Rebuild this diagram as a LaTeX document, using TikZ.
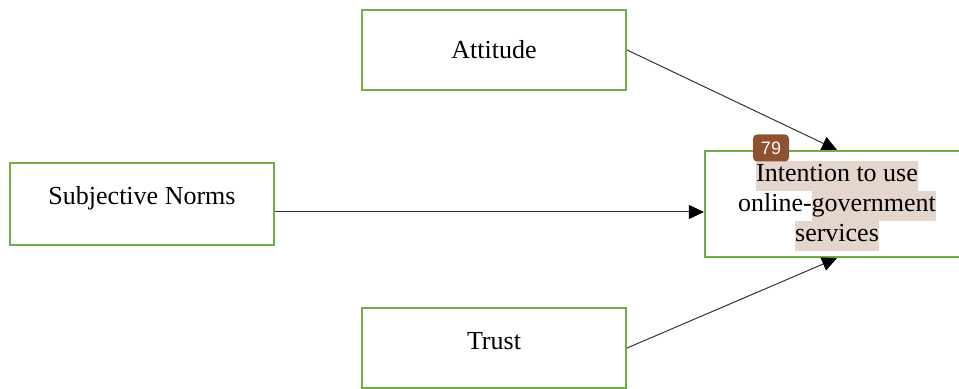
\documentclass[tikz,border=0pt]{standalone}
\usepackage{fontspec}
\setmainfont{Liberation Serif}
\newfontfamily\badgefont{Liberation Sans}
\usetikzlibrary{positioning, arrows.meta, shapes}
\definecolor{boxgreen}{RGB}{112,173,71}
\definecolor{hlbrown}{RGB}{228,214,204}
\definecolor{badgebrown}{RGB}{142,82,48}
\newcommand{\hlword}[1]{{\setlength{\fboxsep}{0pt}\colorbox{hlbrown}{\strut #1}}}

\begin{document}
\begin{tikzpicture}[x=0.5pt, y=-0.5pt,
		factor/.style={draw=boxgreen, line width=1.1pt, minimum width=132pt, minimum height=40pt, font=\fontsize{13}{15}\selectfont, text height=9pt},
		link/.style={draw=black!80, line width=0.5pt, -{Triangle[length=7.5pt, width=7pt, color=black]}}]
		\useasboundingbox (0,0) rectangle (959,389);
		\node[factor, text depth=0pt] (att) at (494,50) {Attitude};
		\node[factor, minimum height=41pt, text depth=8pt] (sn) at (142,204) {Subjective Norms};
		\node[factor, minimum height=53pt, inner ysep=0pt, text height={}, text depth={}, align=center] (intent) at (837,204)
			{\rule{0pt}{12.5pt}\hlword{Intention to use}\\online-\hlword{government}\\\hlword{services}};
		\node[factor, text depth=7pt] (trust) at (494,348) {Trust};
		\node[fill=badgebrown, text=white, rounded corners=2pt, minimum width=18pt, minimum height=13.5pt, inner sep=0pt, font=\badgefont\fontsize{9}{10}\selectfont] (badge) at (771,148) {79};
		
		\path[link] (att.east) -- (intent.north);
		\path[link] ([yshift=-4pt]sn.east) -- ([yshift=-4pt]intent.west);
		\path[link] (trust.east) -- (intent.south);
	\end{tikzpicture}
\end{document}
